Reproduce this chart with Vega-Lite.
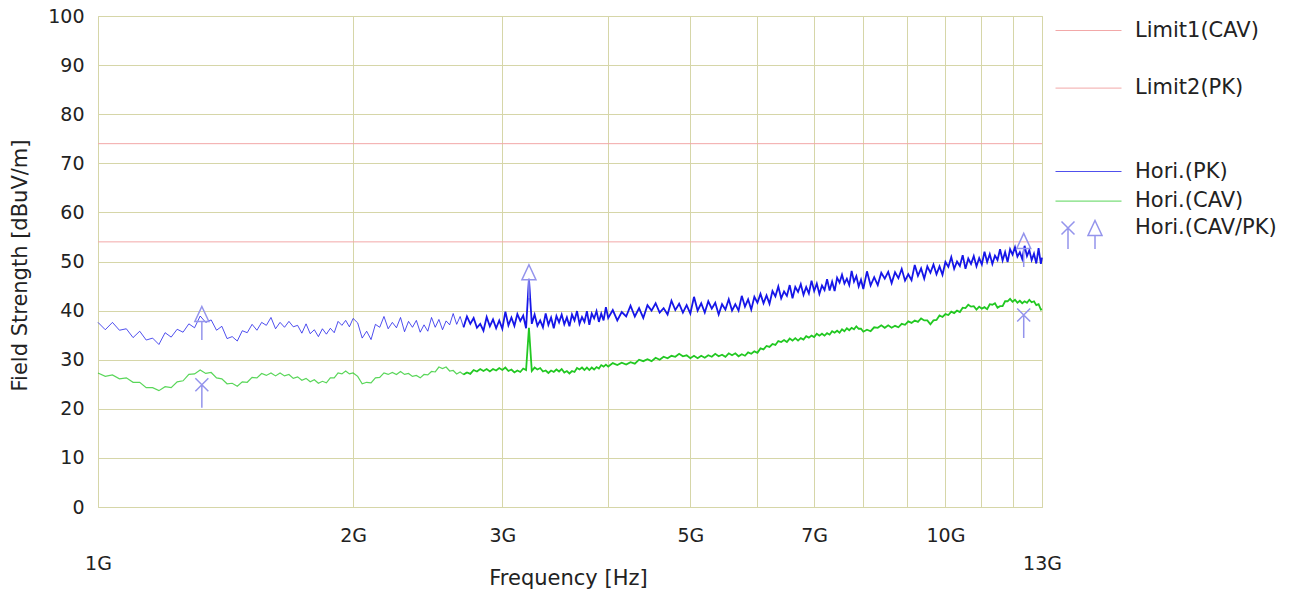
{
"$schema": "https://vega.github.io/schema/vega-lite/v6.json",
"width": 944,
"height": 491,
"autosize": {"type": "none"},
"padding": {"left": 98, "top": 16, "right": 259, "bottom": 87},
"background": "white",
"config": {
  "font": "DejaVu Sans",
  "view": {"stroke": "#d2d2a2", "strokeWidth": 1},
  "axis": {"labelFont": "DejaVu Sans", "titleFont": "DejaVu Sans", "labelColor": "#222222", "titleColor": "#222222", "titleFontWeight": "normal", "gridColor": "#d6d6a8", "gridOpacity": 1, "gridWidth": 1, "domain": false, "ticks": false},
  "legend": {"labelFont": "DejaVu Sans", "labelColor": "#222222", "padding": 0}
},
"datasets": {
  "limits": [{"name": "Limit1(CAV)", "v": 74}, {"name": "Limit2(PK)", "v": 54}],
  "markers": [
    {"f": 1.326, "v": 39.3, "det": "PK"}, {"f": 3.225, "v": 47.8, "det": "PK"}, {"f": 12.37, "v": 54.2, "det": "PK"},
    {"f": 1.326, "v": 24.9, "det": "CAV"}, {"f": 12.37, "v": 39.1, "det": "CAV"}
  ],
  "trace": [
{"f":1.00,"pk":37.6,"cav":27.3},{"f":1.02,"pk":36.1,"cav":26.6},{"f":1.04,"pk":37.6,"cav":26.9},{"f":1.06,"pk":36.0,"cav":26.1},{"f":1.08,"pk":36.3,"cav":26.3},
{"f":1.10,"pk":34.5,"cav":25.4},{"f":1.12,"pk":35.8,"cav":25.4},{"f":1.14,"pk":34.0,"cav":24.3},{"f":1.16,"pk":34.4,"cav":24.3},{"f":1.18,"pk":33.1,"cav":23.7},
{"f":1.20,"pk":35.5,"cav":24.5},{"f":1.22,"pk":34.6,"cav":24.3},{"f":1.24,"pk":36.2,"cav":25.5},{"f":1.26,"pk":35.6,"cav":25.7},{"f":1.28,"pk":37.3,"cav":27.0},
{"f":1.30,"pk":36.5,"cav":27.1},{"f":1.32,"pk":38.9,"cav":27.9},{"f":1.34,"pk":37.6,"cav":27.2},{"f":1.36,"pk":38.1,"cav":27.4},{"f":1.38,"pk":36.0,"cav":26.3},
{"f":1.40,"pk":36.8,"cav":26.1},{"f":1.42,"pk":34.3,"cav":25.1},{"f":1.44,"pk":34.7,"cav":25.2},{"f":1.46,"pk":33.8,"cav":24.6},{"f":1.48,"pk":35.9,"cav":25.5},
{"f":1.50,"pk":35.5,"cav":25.4},{"f":1.52,"pk":37.2,"cav":26.4},{"f":1.54,"pk":36.0,"cav":26.3},{"f":1.56,"pk":37.6,"cav":27.2},{"f":1.58,"pk":37.0,"cav":26.8},
{"f":1.60,"pk":38.6,"cav":27.3},{"f":1.62,"pk":36.3,"cav":26.7},{"f":1.64,"pk":37.6,"cav":27.3},{"f":1.66,"pk":36.6,"cav":26.7},{"f":1.68,"pk":37.8,"cav":27.0},
{"f":1.70,"pk":36.7,"cav":26.2},{"f":1.72,"pk":37.0,"cav":26.5},{"f":1.74,"pk":35.4,"cav":25.8},{"f":1.76,"pk":37.3,"cav":26.2},{"f":1.78,"pk":35.3,"cav":25.5},
{"f":1.80,"pk":36.1,"cav":25.9},{"f":1.82,"pk":34.7,"cav":25.2},{"f":1.84,"pk":36.3,"cav":25.6},{"f":1.86,"pk":35.2,"cav":25.3},{"f":1.88,"pk":36.4,"cav":26.3},
{"f":1.90,"pk":35.5,"cav":26.3},{"f":1.92,"pk":37.8,"cav":27.3},{"f":1.94,"pk":37.0,"cav":27.1},{"f":1.96,"pk":38.0,"cav":27.7},{"f":1.98,"pk":36.7,"cav":27.1},
{"f":2.00,"pk":38.4,"cav":27.3},
{"f":2.025,"pk":37.5,"cav":26.6},{"f":2.05,"pk":34.4,"cav":25.1},{"f":2.075,"pk":35.8,"cav":25.4},{"f":2.10,"pk":34.1,"cav":25.3},{"f":2.125,"pk":37.2,"cav":26.3},
{"f":2.15,"pk":36.6,"cav":26.4},{"f":2.175,"pk":38.8,"cav":27.3},{"f":2.20,"pk":36.3,"cav":27.0},{"f":2.225,"pk":37.6,"cav":27.4},{"f":2.25,"pk":36.5,"cav":27.0},
{"f":2.275,"pk":38.6,"cav":27.6},{"f":2.30,"pk":35.7,"cav":27.0},{"f":2.325,"pk":37.8,"cav":27.2},{"f":2.35,"pk":36.6,"cav":26.6},{"f":2.375,"pk":38.0,"cav":26.8},
{"f":2.40,"pk":35.6,"cav":26.3},{"f":2.425,"pk":37.1,"cav":27.0},{"f":2.45,"pk":35.8,"cav":26.9},{"f":2.475,"pk":38.6,"cav":27.6},{"f":2.50,"pk":36.6,"cav":27.5},
{"f":2.525,"pk":38.2,"cav":28.5},{"f":2.55,"pk":36.1,"cav":28.2},{"f":2.575,"pk":37.9,"cav":28.5},{"f":2.60,"pk":37.1,"cav":27.7},{"f":2.625,"pk":39.4,"cav":27.8},
{"f":2.65,"pk":37.2,"cav":27.1},{"f":2.675,"pk":38.8,"cav":27.5},{"f":2.70,"pk":36.6,"cav":27.0},{"f":2.725,"pk":38.8,"cav":27.4},{"f":2.75,"pk":37.3,"cav":27.1},
{"f":2.775,"pk":38.5,"cav":27.9},{"f":2.80,"pk":36.5,"cav":27.6},{"f":2.825,"pk":37.3,"cav":28.1},{"f":2.85,"pk":35.9,"cav":27.7},{"f":2.875,"pk":38.7,"cav":28.1},
{"f":2.90,"pk":36.8,"cav":27.6},{"f":2.925,"pk":38.2,"cav":28.1},{"f":2.95,"pk":36.4,"cav":27.8},{"f":2.975,"pk":38.0,"cav":28.3},{"f":3.00,"pk":36.3,"cav":27.9},
{"f":3.025,"pk":39.8,"cav":28.4},{"f":3.05,"pk":37.0,"cav":27.7},{"f":3.075,"pk":38.6,"cav":28.0},{"f":3.10,"pk":36.9,"cav":27.4},{"f":3.125,"pk":39.3,"cav":27.8},
{"f":3.15,"pk":37.9,"cav":27.5},{"f":3.175,"pk":39.0,"cav":28.2},{"f":3.20,"pk":36.4,"cav":27.9},{"f":3.225,"pk":46.5,"cav":36.5},{"f":3.25,"pk":37.3,"cav":27.7},
{"f":3.275,"pk":39.2,"cav":28.4},{"f":3.30,"pk":36.9,"cav":28.0},{"f":3.325,"pk":38.0,"cav":28.3},{"f":3.35,"pk":36.6,"cav":27.6},{"f":3.375,"pk":39.4,"cav":27.8},
{"f":3.40,"pk":37.1,"cav":27.3},{"f":3.425,"pk":38.6,"cav":27.8},{"f":3.45,"pk":36.4,"cav":27.5},{"f":3.475,"pk":38.9,"cav":28.0},{"f":3.50,"pk":37.6,"cav":27.6},
{"f":3.525,"pk":39.2,"cav":28.1},{"f":3.55,"pk":37.2,"cav":27.4},{"f":3.575,"pk":38.6,"cav":27.7},{"f":3.60,"pk":36.8,"cav":27.2},{"f":3.625,"pk":39.2,"cav":27.7},
{"f":3.65,"pk":38.0,"cav":27.5},{"f":3.675,"pk":39.9,"cav":28.3},{"f":3.70,"pk":37.3,"cav":28.0},{"f":3.725,"pk":38.7,"cav":28.4},{"f":3.75,"pk":37.7,"cav":27.9},
{"f":3.775,"pk":39.9,"cav":28.4},{"f":3.80,"pk":37.1,"cav":27.9},{"f":3.825,"pk":39.4,"cav":28.4},{"f":3.85,"pk":38.4,"cav":28.0},{"f":3.875,"pk":39.9,"cav":28.5},
{"f":3.90,"pk":37.7,"cav":28.2},{"f":3.925,"pk":39.4,"cav":28.9},{"f":3.95,"pk":38.0,"cav":28.6},{"f":3.975,"pk":40.7,"cav":29.0},{"f":4.00,"pk":38.5,"cav":28.6},
{"f":4.05,"pk":40.1,"cav":29.3},{"f":4.10,"pk":38.0,"cav":28.9},{"f":4.15,"pk":39.7,"cav":29.4},{"f":4.20,"pk":38.8,"cav":29.0},{"f":4.25,"pk":41.0,"cav":29.5},
{"f":4.30,"pk":38.8,"cav":29.2},{"f":4.35,"pk":40.5,"cav":30.0},{"f":4.40,"pk":38.5,"cav":29.7},{"f":4.45,"pk":41.1,"cav":30.1},{"f":4.50,"pk":40.0,"cav":29.7},
{"f":4.55,"pk":41.5,"cav":30.4},{"f":4.60,"pk":39.6,"cav":30.0},{"f":4.65,"pk":40.5,"cav":30.6},{"f":4.70,"pk":39.2,"cav":30.3},{"f":4.75,"pk":42.0,"cav":30.8},
{"f":4.80,"pk":40.1,"cav":30.6},{"f":4.85,"pk":41.4,"cav":31.2},{"f":4.90,"pk":39.6,"cav":30.7},{"f":4.95,"pk":41.1,"cav":30.9},{"f":5.00,"pk":39.4,"cav":30.3},
{"f":5.05,"pk":42.8,"cav":30.8},{"f":5.10,"pk":40.0,"cav":30.3},{"f":5.15,"pk":41.5,"cav":30.8},{"f":5.20,"pk":39.6,"cav":30.4},{"f":5.25,"pk":41.9,"cav":30.9},
{"f":5.30,"pk":40.4,"cav":30.6},{"f":5.35,"pk":41.6,"cav":31.2},{"f":5.40,"pk":39.2,"cav":30.7},{"f":5.45,"pk":41.3,"cav":31.0},{"f":5.50,"pk":40.2,"cav":30.6},
{"f":5.55,"pk":42.3,"cav":31.3},{"f":5.60,"pk":40.0,"cav":30.9},{"f":5.65,"pk":41.3,"cav":31.3},{"f":5.70,"pk":40.0,"cav":30.7},{"f":5.75,"pk":43.0,"cav":31.1},
{"f":5.80,"pk":40.8,"cav":30.8},{"f":5.85,"pk":42.3,"cav":31.5},{"f":5.90,"pk":40.2,"cav":31.2},{"f":5.95,"pk":42.8,"cav":31.7},{"f":6.00,"pk":41.6,"cav":31.4},
{"f":6.05,"pk":43.4,"cav":32.3},{"f":6.10,"pk":41.5,"cav":32.1},{"f":6.15,"pk":43.1,"cav":32.8},{"f":6.20,"pk":41.4,"cav":32.6},{"f":6.25,"pk":44.0,"cav":33.2},
{"f":6.30,"pk":42.9,"cav":33.0},{"f":6.35,"pk":44.9,"cav":33.8},{"f":6.40,"pk":42.5,"cav":33.6},{"f":6.45,"pk":43.9,"cav":34.0},{"f":6.50,"pk":43.0,"cav":33.6},
{"f":6.55,"pk":45.2,"cav":34.3},{"f":6.60,"pk":42.5,"cav":33.9},{"f":6.65,"pk":44.8,"cav":34.4},{"f":6.70,"pk":43.8,"cav":33.9},{"f":6.75,"pk":45.4,"cav":34.4},
{"f":6.80,"pk":43.2,"cav":34.1},{"f":6.85,"pk":44.8,"cav":34.8},{"f":6.90,"pk":43.5,"cav":34.5},{"f":6.95,"pk":46.1,"cav":34.9},{"f":7.00,"pk":44.0,"cav":34.6},
{"f":7.05,"pk":45.5,"cav":35.3},{"f":7.10,"pk":43.4,"cav":34.9},{"f":7.15,"pk":45.1,"cav":35.3},{"f":7.20,"pk":44.2,"cav":34.9},{"f":7.25,"pk":46.4,"cav":35.4},
{"f":7.30,"pk":44.1,"cav":35.1},{"f":7.35,"pk":45.9,"cav":35.8},{"f":7.40,"pk":44.0,"cav":35.5},{"f":7.45,"pk":46.7,"cav":35.9},{"f":7.50,"pk":45.7,"cav":35.5},
{"f":7.55,"pk":47.3,"cav":36.2},{"f":7.60,"pk":45.5,"cav":35.8},{"f":7.65,"pk":46.5,"cav":36.4},{"f":7.70,"pk":45.2,"cav":36.0},{"f":7.75,"pk":48.1,"cav":36.5},
{"f":7.80,"pk":45.9,"cav":36.2},{"f":7.85,"pk":47.0,"cav":36.8},{"f":7.90,"pk":44.9,"cav":36.3},{"f":7.95,"pk":46.3,"cav":36.3},{"f":8.00,"pk":44.4,"cav":35.7},
{"f":8.08,"pk":48.0,"cav":36.1},{"f":8.16,"pk":45.1,"cav":35.8},{"f":8.24,"pk":46.8,"cav":36.6},{"f":8.32,"pk":45.2,"cav":36.5},{"f":8.40,"pk":47.7,"cav":37.0},
{"f":8.48,"pk":46.5,"cav":36.5},{"f":8.56,"pk":47.9,"cav":37.0},{"f":8.64,"pk":45.6,"cav":36.5},{"f":8.72,"pk":47.8,"cav":36.9},{"f":8.80,"pk":46.6,"cav":36.6},
{"f":8.88,"pk":48.5,"cav":37.3},{"f":8.96,"pk":46.1,"cav":37.1},{"f":9.04,"pk":47.4,"cav":37.8},{"f":9.12,"pk":46.2,"cav":37.5},{"f":9.20,"pk":49.3,"cav":38.0},
{"f":9.28,"pk":47.1,"cav":37.7},{"f":9.36,"pk":48.6,"cav":38.4},{"f":9.44,"pk":46.5,"cav":38.0},{"f":9.52,"pk":49.0,"cav":38.0},{"f":9.60,"pk":47.7,"cav":37.2},
{"f":9.68,"pk":49.4,"cav":38.0},{"f":9.76,"pk":47.4,"cav":38.1},{"f":9.84,"pk":49.0,"cav":39.0},{"f":9.92,"pk":47.3,"cav":38.7},{"f":10.00,"pk":49.9,"cav":39.3},
{"f":10.08,"pk":48.9,"cav":39.1},{"f":10.16,"pk":50.9,"cav":39.8},{"f":10.24,"pk":48.5,"cav":39.5},{"f":10.32,"pk":50.0,"cav":40.0},{"f":10.40,"pk":49.1,"cav":39.7},
{"f":10.48,"pk":51.3,"cav":40.6},{"f":10.56,"pk":48.5,"cav":40.5},{"f":10.64,"pk":50.6,"cav":41.2},{"f":10.72,"pk":49.5,"cav":40.8},{"f":10.80,"pk":51.1,"cav":40.9},
{"f":10.88,"pk":49.0,"cav":40.2},{"f":10.96,"pk":50.7,"cav":40.8},{"f":11.04,"pk":49.4,"cav":40.4},{"f":11.12,"pk":52.0,"cav":40.7},{"f":11.20,"pk":49.9,"cav":40.3},
{"f":11.28,"pk":51.5,"cav":41.3},{"f":11.36,"pk":49.5,"cav":41.2},{"f":11.44,"pk":51.2,"cav":41.5},{"f":11.52,"pk":50.3,"cav":40.6},{"f":11.60,"pk":52.5,"cav":40.9},
{"f":11.68,"pk":50.2,"cav":40.9},{"f":11.76,"pk":51.9,"cav":41.9},{"f":11.84,"pk":49.9,"cav":41.9},{"f":11.92,"pk":52.5,"cav":42.4},{"f":12.00,"pk":51.4,"cav":41.8},
{"f":12.08,"pk":52.9,"cav":42.2},{"f":12.16,"pk":51.0,"cav":41.6},{"f":12.24,"pk":51.9,"cav":42.0},{"f":12.32,"pk":50.5,"cav":41.5},{"f":12.40,"pk":53.2,"cav":41.9},
{"f":12.48,"pk":51.1,"cav":41.6},{"f":12.56,"pk":52.3,"cav":42.2},{"f":12.64,"pk":50.3,"cav":41.7},{"f":12.72,"pk":51.6,"cav":41.9},{"f":12.80,"pk":49.6,"cav":41.1},
{"f":12.88,"pk":52.7,"cav":41.3},{"f":12.96,"pk":49.5,"cav":40.2},{"f":13.00,"pk":50.8,"cav":40.3}
  ]
},
"layer": [
  {
    "data": {"name": "limits"},
    "mark": {"type": "rule", "strokeWidth": 1},
    "encoding": {
      "y": {"field": "v", "type": "quantitative", "scale": {"domain": [0, 100]}, "title": "Field Strength [dBuV/m]"},
      "stroke": {"field": "name", "type": "nominal",
        "scale": {"domain": ["Limit1(CAV)", "Limit2(PK)"], "range": ["#f2a8a8", "#f2a8a8"]},
        "legend": {"title": null, "orient": "none", "legendX": 979, "legendY": 3, "symbolType": "M-3,0L3,0", "symbolSize": 484, "symbolStrokeWidth": 1, "labelOffset": 35, "rowPadding": 35.6, "labelFontSize": 21}}
    }
  },
  {
    "data": {"name": "trace"},
    "transform": [{"filter": "datum.f <= 2.726"}],
    "mark": {"type": "line", "strokeWidth": 1, "opacity": 0.75},
    "encoding": {
      "x": {"field": "f", "type": "quantitative", "scale": {"type": "log", "domain": [1, 13], "nice": false},
        "axis": {"orient": "bottom", "values": [1,2,3,4,5,6,7,8,9,10,11,12,13], "labelExpr": "indexof([2,3,5,7,10], datum.value) >= 0 ? datum.value + 'G' : ''", "grid": true, "labelFontSize": 19, "labelPadding": 19, "labelOverlap": false, "labelBound": false, "labelFlush": false, "title": "Frequency [Hz]", "titleFontSize": 21, "titleX": 470, "titleY": 71, "titleAlign": "center", "titleBaseline": "middle"}},
      "y": {"field": "pk", "type": "quantitative", "scale": {"domain": [0, 100]}, "title": "Field Strength [dBuV/m]",
        "axis": {"values": [0,10,20,30,40,50,60,70,80,90,100], "grid": true, "labelFontSize": 19, "labelPadding": 14, "labelOverlap": false, "titleFontSize": 21, "titleX": -78, "titleY": 249, "titleAngle": -90, "titleAlign": "center", "titleBaseline": "middle"}},
      "color": {"datum": "Hori.(PK)",
        "scale": {"domain": ["Hori.(PK)", "Hori.(CAV)"], "range": ["#1616e8", "#22c822"]},
        "legend": {"title": null, "orient": "none", "legendX": 979, "legendY": 144, "symbolType": "M-3,0L3,0", "symbolSize": 484, "symbolStrokeWidth": 1, "labelOffset": 35, "rowPadding": 7.6, "labelFontSize": 21,
          "encode": {"symbols": {"stroke": {"condition": {"test": "datum.value === 'Hori.(PK)'", "value": "#9a9af2"}, "value": "#8ee08e"}, "opacity": {"value": 1}}}}}
    }
  },
  {
    "data": {"name": "trace"},
    "transform": [{"filter": "datum.f >= 2.7"}],
    "mark": {"type": "line", "strokeWidth": 1.8},
    "encoding": {
      "x": {"field": "f", "type": "quantitative", "axis": null},
      "y": {"field": "pk", "type": "quantitative", "title": "Field Strength [dBuV/m]"},
      "color": {"datum": "Hori.(PK)"}
    }
  },
  {
    "data": {"name": "trace"},
    "transform": [{"filter": "datum.f <= 2.726"}],
    "mark": {"type": "line", "strokeWidth": 1.2, "opacity": 0.75},
    "encoding": {
      "x": {"field": "f", "type": "quantitative",
        "axis": {"orient": "bottom", "values": [1, 13], "labelExpr": "datum.value + 'G'", "grid": false, "labelFontSize": 19, "labelPadding": 47, "labelOverlap": false, "labelBound": false, "labelFlush": false, "title": null}},
      "y": {"field": "cav", "type": "quantitative", "title": "Field Strength [dBuV/m]"},
      "color": {"datum": "Hori.(CAV)"}
    }
  },
  {
    "data": {"name": "trace"},
    "transform": [{"filter": "datum.f >= 2.7"}],
    "mark": {"type": "line", "strokeWidth": 1.8},
    "encoding": {
      "x": {"field": "f", "type": "quantitative", "axis": null},
      "y": {"field": "cav", "type": "quantitative", "title": "Field Strength [dBuV/m]"},
      "color": {"datum": "Hori.(CAV)"}
    }
  },
  {
    "data": {"name": "markers"},
    "transform": [{"filter": "datum.det === 'PK'"}],
    "mark": {"type": "point", "shape": "M0,-0.75L0.7,0.75L-0.7,0.75ZM0,0.75L0,2.6", "filled": false, "stroke": "#9494ec", "strokeWidth": 1.5, "size": 400, "opacity": 1},
    "encoding": {
      "x": {"field": "f", "type": "quantitative", "axis": null},
      "y": {"field": "v", "type": "quantitative", "title": "Field Strength [dBuV/m]"}
    }
  },
  {
    "data": {"name": "markers"},
    "transform": [{"filter": "datum.det === 'CAV'"}],
    "mark": {"type": "point", "shape": "M-0.65,-0.65L0.65,0.65M-0.65,0.65L0.65,-0.65M0,0L0,2.3", "filled": false, "stroke": "#9494ec", "strokeWidth": 1.5, "size": 400},
    "encoding": {
      "x": {"field": "f", "type": "quantitative", "axis": null},
      "y": {"field": "v", "type": "quantitative", "title": "Field Strength [dBuV/m]"},
      "opacity": {"datum": "Hori.(CAV/PK)", "type": "ordinal",
        "scale": {"domain": ["Hori.(CAV/PK)"], "range": [1]},
        "legend": {"title": null, "orient": "none", "legendX": 972.5, "legendY": 201, "symbolType": "M-2,-0.65L-0.7,0.65M-2,0.65L-0.7,-0.65M-1.35,0L-1.35,2.1M1.35,-0.75L2.05,0.75L0.65,0.75ZM1.35,0.75L1.35,2.1", "symbolSize": 400, "symbolStrokeWidth": 1.5, "symbolStrokeColor": "#9494ec", "symbolFillColor": "transparent", "labelOffset": 42.5, "labelFontSize": 21}}
    }
  }
],
"resolve": {"axis": {"x": "independent"}}
}
